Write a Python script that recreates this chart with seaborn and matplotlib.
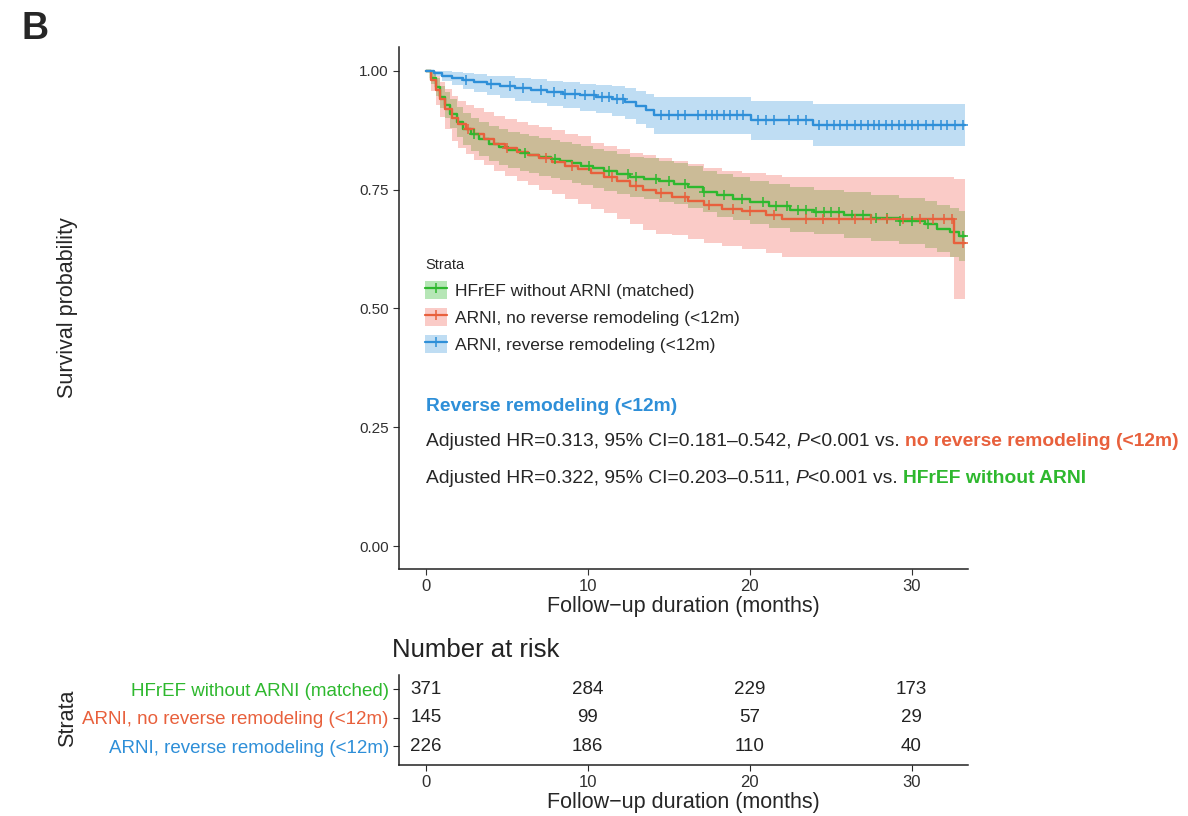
import numpy as np
import pandas as pd
import matplotlib
matplotlib.use("Agg")
import matplotlib.pyplot as plt
from matplotlib.patches import Patch
from matplotlib.lines import Line2D
import seaborn as sns

# ---- data ----
strata = ["HFrEF without ARNI (matched)",
          "ARNI, no reverse remodeling (<12m)",
          "ARNI, reverse remodeling (<12m)"]

green_t = [0, 0.3, 0.6, 0.9, 1.2, 1.5, 1.9, 2.3, 2.8, 3.3,
           3.9, 4.5, 5.1, 5.8, 6.4, 7.0, 7.7, 8.3, 9.0, 9.6,
           10.3, 11.0, 11.8, 12.6, 13.5, 14.4, 15.3, 16.2, 17.1, 18.0,
           19.0, 20.0, 21.2, 22.5, 24.0, 25.8, 27.5, 29.2, 30.8, 31.6,
           32.4, 32.9, 33.3]
green_s = [1.0, 0.985, 0.965, 0.945, 0.928, 0.91, 0.892, 0.878, 0.866, 0.856,
           0.847, 0.84, 0.834, 0.828, 0.823, 0.819, 0.815, 0.81, 0.805, 0.80,
           0.795, 0.789, 0.783, 0.777, 0.773, 0.768, 0.762, 0.755, 0.746, 0.738,
           0.731, 0.723, 0.716, 0.708, 0.703, 0.697, 0.69, 0.684, 0.677, 0.668,
           0.66, 0.652, 0.652]
green_lo = [1.0, 0.973, 0.946, 0.921, 0.901, 0.88, 0.86, 0.844, 0.831, 0.82,
            0.81, 0.802, 0.796, 0.789, 0.784, 0.779, 0.775, 0.77, 0.764, 0.759,
            0.754, 0.747, 0.741, 0.735, 0.73, 0.725, 0.719, 0.711, 0.702, 0.693,
            0.686, 0.677, 0.67, 0.661, 0.656, 0.649, 0.641, 0.635, 0.627, 0.618,
            0.609, 0.60, 0.60]
green_hi = [1.0, 0.997, 0.984, 0.969, 0.955, 0.94, 0.924, 0.912, 0.901, 0.892,
            0.884, 0.878, 0.872, 0.867, 0.862, 0.859, 0.855, 0.85, 0.846, 0.841,
            0.836, 0.831, 0.825, 0.819, 0.816, 0.811, 0.805, 0.799, 0.79, 0.783,
            0.776, 0.769, 0.762, 0.755, 0.75, 0.745, 0.739, 0.733, 0.727, 0.718,
            0.711, 0.704, 0.704]
green_cens = [3.0, 6.1, 8.0, 10.1, 11.3, 12.5, 13.0, 14.2, 15.0, 16.0, 17.2, 18.4,
              19.5, 20.8, 21.6, 22.3, 23.0, 23.5, 24.1, 24.6, 25.0, 25.5, 26.3,
              27.0, 27.8, 28.5, 29.3, 30.0, 31.0, 33.2]

red_t = [0, 0.3, 0.6, 0.9, 1.2, 1.6, 2.0, 2.5, 3.0, 3.6,
         4.2, 4.9, 5.6, 6.3, 7.0, 7.8, 8.6, 9.4, 10.2, 11.0,
         11.8, 12.6, 13.4, 14.2, 15.2, 16.2, 17.2, 18.3, 19.5, 21.0,
         22.0, 32.6, 33.3]
red_s = [1.0, 0.98, 0.96, 0.94, 0.92, 0.90, 0.888, 0.877, 0.867, 0.857,
         0.847, 0.838, 0.83, 0.823, 0.816, 0.808, 0.80, 0.793, 0.785, 0.777,
         0.768, 0.758, 0.749, 0.742, 0.735, 0.727, 0.717, 0.71, 0.704, 0.697,
         0.688, 0.638, 0.638]
red_lo = [1.0, 0.957, 0.929, 0.903, 0.878, 0.853, 0.838, 0.825, 0.813, 0.801,
          0.789, 0.778, 0.768, 0.759, 0.75, 0.74, 0.73, 0.72, 0.71, 0.70,
          0.689, 0.677, 0.666, 0.657, 0.655, 0.647, 0.638, 0.632, 0.625, 0.617,
          0.608, 0.52, 0.52]
red_hi = [1.0, 1.0, 0.99, 0.976, 0.962, 0.947, 0.937, 0.928, 0.921, 0.913,
          0.905, 0.898, 0.892, 0.886, 0.881, 0.875, 0.868, 0.862, 0.848, 0.842,
          0.836, 0.828, 0.822, 0.816, 0.81, 0.803, 0.795, 0.79, 0.785, 0.78,
          0.776, 0.772, 0.772]
red_cens = [2.6, 5.0, 7.4, 9.0, 11.5, 13.0, 14.5, 16.0, 17.5, 19.0, 20.0, 21.5,
            23.5, 24.5, 25.5, 26.5, 27.5, 28.5, 29.5, 30.5, 31.3, 32.0, 32.5, 33.2]

blue_t = [0, 0.5, 1.0, 1.6, 2.3, 3.0, 3.8, 4.6, 5.5, 6.5,
          7.5, 8.5, 9.5, 10.5, 11.5, 12.3, 13.0, 13.6, 14.1, 20.1,
          23.9, 33.3]
blue_s = [1.0, 0.996, 0.99, 0.985, 0.98, 0.976, 0.972, 0.968, 0.964, 0.96,
          0.956, 0.952, 0.948, 0.944, 0.94, 0.934, 0.926, 0.918, 0.906, 0.896,
          0.886, 0.886]
blue_lo = [1.0, 0.988, 0.978, 0.97, 0.962, 0.955, 0.949, 0.943, 0.937, 0.932,
           0.926, 0.921, 0.916, 0.911, 0.905, 0.898, 0.888, 0.879, 0.866, 0.855,
           0.842, 0.842]
blue_hi = [1.0, 1.0, 1.0, 0.998, 0.995, 0.993, 0.99, 0.988, 0.985, 0.982,
           0.979, 0.976, 0.973, 0.97, 0.967, 0.963, 0.958, 0.952, 0.945, 0.937,
           0.93, 0.93]
blue_cens = [2.5, 4.0, 5.2, 6.0, 7.1, 7.9, 8.6, 9.2, 9.8, 10.4, 10.9, 11.3, 11.8,
             12.2, 14.5, 15.0, 15.6, 16.0, 16.8, 17.3, 17.7, 18.0, 18.4, 18.8,
             19.2, 19.6, 20.5, 21.0, 21.5, 22.4, 23.0, 23.5, 24.3, 24.8, 25.2,
             25.6, 26.0, 26.5, 26.9, 27.3, 27.7, 28.0, 28.4, 28.8, 29.2, 29.6,
             30.0, 30.4, 30.9, 31.3, 31.8, 32.2, 32.7, 33.2]

risk_times = [0, 10, 20, 30]
risk_green = [371, 284, 229, 173]
risk_red = [145, 99, 57, 29]
risk_blue = [226, 186, 110, 40]

# ---- style ----
sns.set_style("ticks")
plt.rcParams['font.family'] = ['Liberation Sans', 'DejaVu Sans']
colors = ["#2EB82E", "#E8603C", "#2E8FD8"]
fills = ["#2EB82E", "#F36B5F", "#2E8FD8"]
fill_alpha = [0.35, 0.35, 0.3]
palette = dict(zip(strata, colors))

curves = [(green_t, green_s, green_lo, green_hi, green_cens),
          (red_t, red_s, red_lo, red_hi, red_cens),
          (blue_t, blue_s, blue_lo, blue_hi, blue_cens)]

df = pd.concat([pd.DataFrame({"time": c[0], "surv": c[1], "strata": name})
                for c, name in zip(curves, strata)], ignore_index=True)

fig = plt.figure(figsize=(11.88, 8.16), dpi=100)
ax = fig.add_axes([0.336, 0.3027, 0.479, 0.6397])

for (t, s, lo, hi, cens), fc, a in zip(curves, fills, fill_alpha):
    ax.fill_between(t, lo, hi, step="post", color=fc, alpha=a, lw=0, zorder=1)

sns.lineplot(data=df, x="time", y="surv", hue="strata", palette=palette,
             estimator=None, sort=False, drawstyle="steps-post", lw=1.7,
             legend=False, ax=ax, zorder=3)

for (t, s, lo, hi, cens), col in zip(curves, colors):
    idx = np.searchsorted(t, cens, side="right") - 1
    ax.plot(cens, np.asarray(s)[idx], ls="none", marker="+", ms=7, mew=1.1,
            color=col, zorder=4)

ax.set_xlim(-1.65, 33.5)
ax.set_ylim(-0.048, 1.05)
ax.set_xticks([0, 10, 20, 30])
ax.set_yticks([0, 0.25, 0.5, 0.75, 1.0])
ax.set_yticklabels(["0.00", "0.25", "0.50", "0.75", "1.00"])
ax.tick_params(colors="#333333", length=4, labelcolor="#303030")
ax.tick_params(axis="x", labelsize=12)
ax.tick_params(axis="y", labelsize=11)
ax.set_xlabel("Follow\u2212up duration (months)", fontsize=15.5, labelpad=1)
ax.set_ylabel("")
sns.despine(ax=ax)
for sp in ["left", "bottom"]:
    ax.spines[sp].set_linewidth(1.1)
    ax.spines[sp].set_color("#222222")

handles = [(Patch(facecolor=fc, alpha=a, lw=0),
            Line2D([], [], color=c, lw=1.6, marker="+", ms=7, mew=1.1))
           for fc, a, c in zip(fills, fill_alpha, colors)]
leg = ax.legend(handles, strata, title="Strata", loc="upper left",
                bbox_to_anchor=(0.03, 0.612), frameon=False, fontsize=12.5,
                title_fontsize=10.5, handlelength=1.25, handleheight=1.25,
                labelspacing=0.5, borderpad=0, handletextpad=0.5,
                alignment="left")

# annotation text
fs = 13.9
ax.text(0, 0.293, "Reverse remodeling (<12m)", color=colors[2],
        fontweight="bold", fontsize=fs, va="center", ha="left")

def chain(y, parts):
    prev = ax.text(0, y, parts[0][0], fontsize=fs, va="center", ha="left",
                   **parts[0][1])
    for txt, kw in parts[1:]:
        prev = ax.annotate(txt, xy=(1, 0), xycoords=prev, va="bottom",
                           ha="left", fontsize=fs, **kw)

chain(0.221, [("Adjusted HR=0.313, 95% CI=0.181\u20130.542, ", {}),
              ("P", {"fontstyle": "italic"}),
              ("<0.001 vs. ", {}),
              ("no reverse remodeling (<12m)", {"color": colors[1], "fontweight": "bold"})])
chain(0.143, [("Adjusted HR=0.322, 95% CI=0.203\u20130.511, ", {}),
              ("P", {"fontstyle": "italic"}),
              ("<0.001 vs. ", {}),
              ("HFrEF without ARNI", {"color": colors[0], "fontweight": "bold"})])

fig.text(68 / 1188, 1 - 308 / 816, "Survival probability", rotation=90,
         ha="center", va="center", fontsize=15.5)
fig.text(0.018, 0.987, "B", fontsize=27, fontweight="bold", va="top", ha="left")

# ---- risk table ----
ax2 = fig.add_axes([0.336, 0.0625, 0.479, 0.110])
risk = [risk_green, risk_red, risk_blue]
for row, vals in enumerate(risk, start=1):
    for t, v in zip(risk_times, vals):
        ax2.text(t, row, str(v), ha="center", va="center", fontsize=13.5,
                 color="#222222")
ax2.set_xlim(-1.65, 33.5)
ax2.set_ylim(3.65, 0.5)
ax2.set_yticks([1, 2, 3])
ax2.set_yticklabels(strata, fontsize=13.5)
for lbl, c in zip(ax2.get_yticklabels(), colors):
    lbl.set_color(c)
ax2.set_xticks([0, 10, 20, 30])
ax2.tick_params(axis="x", labelsize=12, labelcolor="#303030", length=4)
ax2.tick_params(axis="y", length=4)
ax2.set_xlabel("Follow\u2212up duration (months)", fontsize=15.5, labelpad=1)
ax2.set_ylabel("")
ax2.text(-0.012, 1.28, "Number at risk", transform=ax2.transAxes,
         fontsize=18.5, ha="left", va="center", color="#222222")
sns.despine(ax=ax2)
for sp in ["left", "bottom"]:
    ax2.spines[sp].set_linewidth(1.1)
    ax2.spines[sp].set_color("#222222")
fig.text(68 / 1188, 1 - 718 / 816, "Strata", rotation=90, ha="center",
         va="center", fontsize=15.5)

fig.savefig("out.png", dpi=100)
